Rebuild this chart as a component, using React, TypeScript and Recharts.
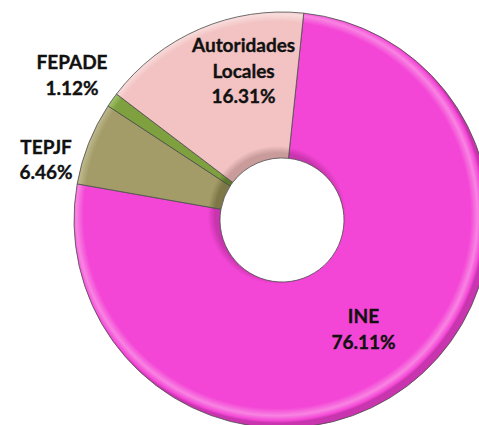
import React from 'react';
import { PieChart, Pie, Cell } from 'recharts';

const categories = ['INE', 'TEPJF', 'FEPADE', 'Autoridades Locales'];
const values = [76.11, 6.46, 1.12, 16.31];
const valueLabels = ['76.11%', '6.46%', '1.12%', '16.31%'];
const colors = ['#F446D6', '#A39C68', '#7FA03E', '#F2C3C2'];
const darkColors = ['#C935AE', '#7E7848', '#5B7A2A', '#C99C9B'];
const lightColors = ['#F884E2', '#BDB78C', '#A2C26A', '#F8DCDC'];

const data = categories.map((name, i) => ({ name, value: values[i], label: valueLabels[i] }));

const RAD = Math.PI / 180;
const labelPlacement: Record<string, { r: number; da: number; lines: string[] }> = {
  INE: { r: 136, da: -0.2, lines: ['INE'] },
  TEPJF: { r: 243.5, da: 7.3, lines: ['TEPJF'] },
  FEPADE: { r: 255, da: 0.7, lines: ['FEPADE'] },
  'Autoridades Locales': { r: 154, da: -8.9, lines: ['Autoridades', 'Locales'] },
};

const renderLabel = (props: any) => {
  const { cx, cy, midAngle, payload, index } = props;
  const name = payload?.name ?? categories[index];
  const p = labelPlacement[name];
  const a = (midAngle + p.da) * RAD;
  const x = cx + p.r * Math.cos(a);
  const y = cy - p.r * Math.sin(a);
  const lines = [...p.lines, payload?.label ?? valueLabels[index]];
  const lh = 25.7;
  const y0 = y - ((lines.length - 1) * lh) / 2 + 6.8;
  return (
    <text
      x={x}
      y={y0}
      textAnchor="middle"
      fill="#111"
      stroke="#111"
      strokeWidth={0.35}
      fontFamily="Lato, 'Open Sans', sans-serif"
      fontWeight="bold"
      fontSize={19}
    >
      {lines.map((l, i) => (
        <tspan key={i} x={x} y={y0 + i * lh}>
          {l}
        </tspan>
      ))}
    </text>
  );
};

const CX = 277;
const CY = 215;
const R_IN = 62;
const R_OUT = 208;

export default function App() {
  const inner = R_IN / R_OUT;
  return (
    <div style={{ position: 'absolute', left: 0, top: 0, width: 479, height: 425, background: '#fff' }}>
      <svg width={0} height={0} style={{ position: 'absolute' }}>
        <defs>
          {colors.map((c, i) => (
            <radialGradient key={i} id={`grad${i}`} gradientUnits="userSpaceOnUse" cx={CX} cy={CY} r={R_OUT}>
              <stop offset={0} stopColor={darkColors[i]} />
              <stop offset={inner} stopColor={darkColors[i]} />
              <stop offset={inner + 0.035} stopColor={c} />
              <stop offset={0.93} stopColor={c} />
              <stop offset={0.965} stopColor={lightColors[i]} />
              <stop offset={0.99} stopColor={c} />
              <stop offset={1} stopColor={darkColors[i]} />
            </radialGradient>
          ))}
        </defs>
      </svg>
      <PieChart width={479} height={425}>
        <Pie
          data={data}
          dataKey="value"
          nameKey="name"
          cx={CX}
          cy={CY}
          innerRadius={R_IN}
          outerRadius={R_OUT}
          startAngle={84}
          endAngle={-276}
          stroke="#4a4a4a"
          strokeWidth={0.8}
          label={renderLabel}
          labelLine={false}
          isAnimationActive={false}
        >
          {data.map((d, i) => (
            <Cell key={d.name} fill={`url(#grad${i})`} />
          ))}
        </Pie>
      </PieChart>
    </div>
  );
}
